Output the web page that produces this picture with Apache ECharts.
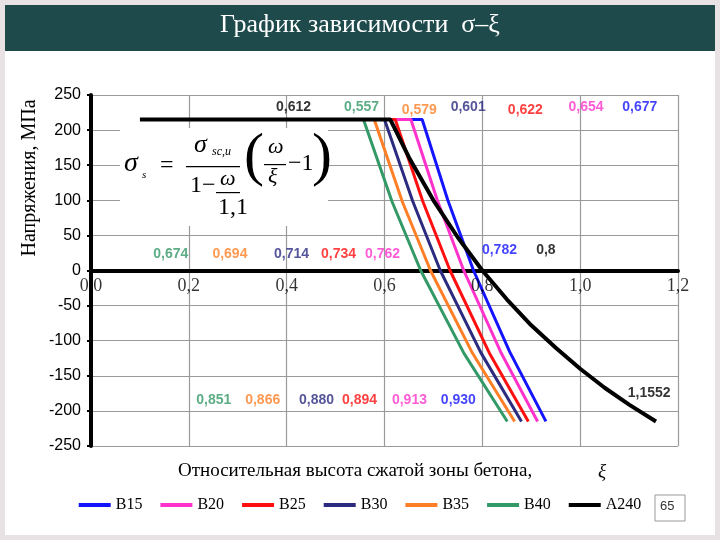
<!DOCTYPE html>
<html><head><meta charset="utf-8">
<script src="https://cdn.jsdelivr.net/npm/echarts@6/dist/echarts.min.js"></script>
<style>html,body{margin:0;padding:0;background:#e9e2e4;}#c{width:720px;height:540px;}</style>
</head><body><div id="c"></div>
<script>
const seriesNames = ['B15','B20','B25','B30','B35','B40','A240'];
const colors = ['#1414ff','#ff33cc','#ff1010','#2b2b80','#ff7f27','#339966','#000000'];
const B15 = [[0.6,215],[0.677,215],[0.7295,100],[0.782,0],[0.856,-116],[0.930,-215]];
const B20 = [[0.6,215],[0.654,215],[0.708,100],[0.762,0],[0.8375,-116],[0.913,-215]];
const B25 = [[0.6,215],[0.622,215],[0.678,99],[0.734,0],[0.814,-117],[0.894,-215]];
const B30 = [[0.6,215],[0.601,215],[0.6575,99],[0.714,0],[0.797,-117],[0.880,-215]];
const B35 = [[0.579,215],[0.6365,98],[0.694,0],[0.78,-118],[0.866,-215]];
const B40 = [[0.557,215],[0.6155,98],[0.674,0],[0.7625,-118],[0.851,-215]];
const A240 = [[0.1,215],[0.612,215],[0.65,161],[0.7,100],[0.75,47],[0.8,0],[0.85,-41],[0.9,-78],[0.95,-110],[1.0,-140],[1.05,-167],[1.1,-191],[1.155,-215]];
const seriesData = [B15,B20,B25,B30,B35,B40,A240];
const xTickValues = [0,0.2,0.4,0.6,0.8,1.0,1.2];
const xTicks = ['0,0','0,2','0,4','0,6','0,8','1,0','1,2'];
// annotation labels: [x, y, text, colorIndex]
const annotations = [
 [0.414,232,'0,612',6],[0.553,232,'0,557',5],[0.671,229,'0,579',4],[0.771,232,'0,601',3],
 [0.888,229,'0,622',2],[1.012,232,'0,654',1],[1.122,232,'0,677',0],
 [0.163,23,'0,674',5],[0.284,23,'0,694',4],[0.41,23,'0,714',3],[0.506,23,'0,734',2],
 [0.596,23,'0,762',1],[0.835,29,'0,782',0],[0.93,29,'0,8',6],[1.141,-174,'1,1552',6],
 [0.251,-185,'0,851',5],[0.351,-185,'0,866',4],[0.461,-185,'0,880',3],[0.549,-185,'0,894',2],
 [0.651,-185,'0,913',1],[0.751,-185,'0,930',0]
];
const chart = echarts.init(document.getElementById('c'));
const series = seriesNames.map((n,i)=>({
  name:n, type:'line', data:seriesData[i], symbol:'none', z: i===6?5:3,
  lineStyle:{color:colors[i], width:i===6?4:3}, itemStyle:{color:colors[i]}
}));
series.push({
  type:'scatter', symbolSize:0, z:10, silent:true,
  data:annotations.map(a=>({value:[a[0],a[1]], label:{color:colors[a[3]]}, name:a[2]})),
  label:{show:true, position:'inside', formatter:p=>p.name, fontFamily:'Liberation Sans', fontWeight:'bold', fontSize:14}
});
series.push({
  type:'scatter', symbolSize:0, z:10, silent:true,
  data:xTickValues.map((v,i)=>({value:[v,-22], name:xTicks[i]})),
  label:{show:true, position:'inside', formatter:p=>p.name, fontFamily:'Liberation Serif', fontSize:18, color:'#000'}
});
chart.setOption({
  animation:false,
  backgroundColor:'transparent',
  graphic:[
    {type:'rect', shape:{x:5,y:5,width:710,height:46}, style:{fill:'#1e4a4b'}},
    {type:'rect', shape:{x:5,y:51,width:710,height:484}, style:{fill:'#ffffff'}},
    {type:'text', left:'center', top:12, style:{text:'График зависимости  σ–ξ', fill:'#fff', font:'26px "Liberation Serif"'}},
    {type:'text', x:30, y:178, rotation:Math.PI/2, style:{text:'Напряжения, МПа', fill:'#000', font:'20px "Liberation Serif"', align:'center', verticalAlign:'middle'}},
    {type:'text', left:178, top:462, style:{text:'Относительная высота сжатой зоны бетона, ', fill:'#000', font:'19px "Liberation Serif"'}},
    {type:'text', left:598, top:462, style:{text:'ξ', fill:'#000', font:'italic 19px "Liberation Serif"'}},
    {type:'rect', shape:{x:120,y:128,width:208,height:98}, style:{fill:'#fff'}, z:20},
    {type:'text', x:124, y:150, z:21, style:{text:'σ', fill:'#000', font:'italic 28px "Liberation Serif"'}},
    {type:'text', x:142, y:170, z:21, style:{text:'s', fill:'#000', font:'italic 11px "Liberation Serif"'}},
    {type:'text', x:160, y:154, z:21, style:{text:'=', fill:'#000', font:'24px "Liberation Serif"'}},
    {type:'text', x:194, y:132, z:21, style:{text:'σ', fill:'#000', font:'italic 26px "Liberation Serif"'}},
    {type:'text', x:212, y:146, z:21, style:{text:'sc,u', fill:'#000', font:'italic 12px "Liberation Serif"'}},
    {type:'rect', z:21, shape:{x:186,y:166,width:54,height:1.2}, style:{fill:'#000'}},
    {type:'text', x:190, y:174, z:21, style:{text:'1−', fill:'#000', font:'24px "Liberation Serif"'}},
    {type:'text', x:220, y:168, z:21, style:{text:'ω', fill:'#000', font:'italic 22px "Liberation Serif"'}},
    {type:'rect', z:21, shape:{x:216,y:192,width:24,height:1.2}, style:{fill:'#000'}},
    {type:'text', x:218, y:196, z:21, style:{text:'1,1', fill:'#000', font:'24px "Liberation Serif"'}},
    {type:'text', x:244, y:128, z:21, style:{text:'(', fill:'#000', font:'60px "Liberation Serif"'}},
    {type:'text', x:268, y:136, z:21, style:{text:'ω', fill:'#000', font:'italic 22px "Liberation Serif"'}},
    {type:'rect', z:21, shape:{x:264,y:164,width:22,height:1.2}, style:{fill:'#000'}},
    {type:'text', x:268, y:166, z:21, style:{text:'ξ', fill:'#000', font:'italic 22px "Liberation Serif"'}},
    {type:'text', x:288, y:152, z:21, style:{text:'−1', fill:'#000', font:'24px "Liberation Serif"'}},
    {type:'text', x:312, y:128, z:21, style:{text:')', fill:'#000', font:'60px "Liberation Serif"'}},
    {type:'rect', shape:{x:655,y:495,width:30,height:26}, style:{fill:'#fff', stroke:'#999', lineWidth:1}},
    {type:'text', x:660, y:500, style:{text:'65', fill:'#333', font:'13px "Liberation Sans"'}}
  ],
  legend:{bottom:22, left:'center', itemWidth:32, itemHeight:4, itemGap:18, icon:'rect',
    textStyle:{fontFamily:'Liberation Serif', fontSize:16, color:'#000'}, data:seriesNames},
  grid:{left:91, right:42, top:95, bottom:94},
  xAxis:{type:'value', min:0, max:1.2, interval:0.2,
    axisLine:{onZero:true, lineStyle:{color:'#000', width:4}},
    axisTick:{show:false},
    axisLabel:{show:false},
    splitLine:{lineStyle:{color:'#9a9a9a', width:1.2}}},
  yAxis:{type:'value', min:-250, max:250, interval:50,
    axisLine:{show:true, lineStyle:{color:'#000', width:4}},
    axisTick:{show:true, length:4, lineStyle:{color:'#000', width:2}},
    axisLabel:{fontFamily:'Liberation Sans', fontSize:16, color:'#000', margin:10},
    splitLine:{lineStyle:{color:'#9a9a9a', width:1.2}}},
  series:series
});
</script></body></html>
